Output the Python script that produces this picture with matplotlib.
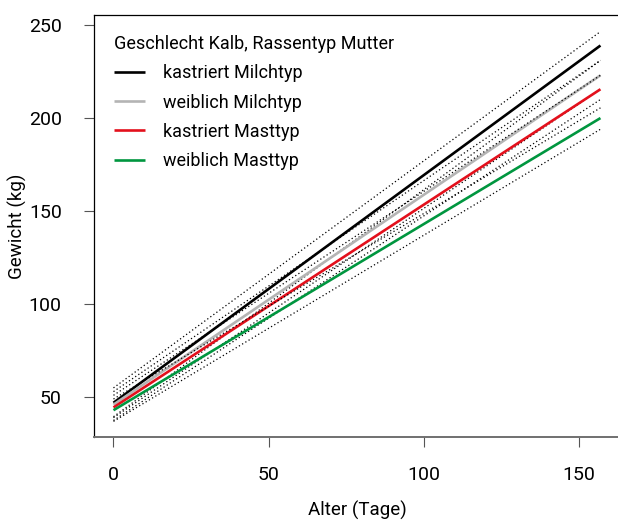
import matplotlib
matplotlib.use("Agg")
import matplotlib.pyplot as plt

plt.rcParams['font.family'] = ['Roboto', 'DejaVu Sans']

# Data
alter = [0, 157]
groups = ["kastriert Milchtyp", "weiblich Milchtyp", "kastriert Masttyp", "weiblich Masttyp"]
colors = ["#000000", "#b4b4b4", "#e3101c", "#00963f"]
mean_km = [47.0, 239.0]
lo_km = [39.5, 231.0]
hi_km = [55.0, 246.5]
mean_wm = [46.0, 223.0]
lo_wm = [39.0, 215.5]
hi_wm = [53.0, 231.0]
mean_kt = [44.5, 215.5]
lo_kt = [37.5, 210.0]
hi_kt = [51.0, 223.0]
mean_wt = [43.0, 200.0]
lo_wt = [37.0, 194.0]
hi_wt = [49.0, 205.5]
means = [mean_km, mean_wm, mean_kt, mean_wt]
los = [lo_km, lo_wm, lo_kt, lo_wt]
his = [hi_km, hi_wm, hi_kt, hi_wt]
xticks = [0, 50, 100, 150]
yticks = [50, 100, 150, 200, 250]

fig = plt.figure(figsize=(6.18, 5.2), dpi=100)
ax = fig.add_axes([94/618, 83/520, 526/618, 422/520])

for name, c, m, lo, hi in zip(groups, colors, means, los, his):
    ax.plot(alter, m, color=c, lw=1.9, label=name, solid_capstyle='butt')
    ax.plot(alter, lo, color='black', lw=0.9, ls=(0, (1, 2.0)))
    ax.plot(alter, hi, color='black', lw=0.9, ls=(0, (1, 2.0)))

ax.set_xlim(-6.28, 163.3)
ax.set_ylim(28.6, 255.4)
ax.set_xticks(xticks)
ax.set_yticks(yticks)
ax.tick_params(axis='both', direction='out', length=7.2, width=0.8, color='#555555',
               labelsize=14)
ax.tick_params(axis='x', pad=14)
ax.tick_params(axis='y', pad=16)
for s in ['left', 'top', 'right']:
    ax.spines[s].set_linewidth(0.9)
ax.spines['bottom'].set_color('#707070')
ax.spines['bottom'].set_linewidth(1.4)
ax.spines['right'].set_visible(False)

ax.set_xlabel("Alter (Tage)", fontsize=13.5, labelpad=12)
ax.set_ylabel("Gewicht (kg)", fontsize=13.5, labelpad=1)

leg = ax.legend(loc='upper left', bbox_to_anchor=(0.017, 0.978), frameon=False,
                title="Geschlecht Kalb, Rassentyp Mutter", fontsize=13, title_fontsize=13,
                handlelength=1.75, handletextpad=0.95, labelspacing=0.62, alignment='left',
                borderaxespad=0.2)

fig.savefig("out.png", dpi=100)
